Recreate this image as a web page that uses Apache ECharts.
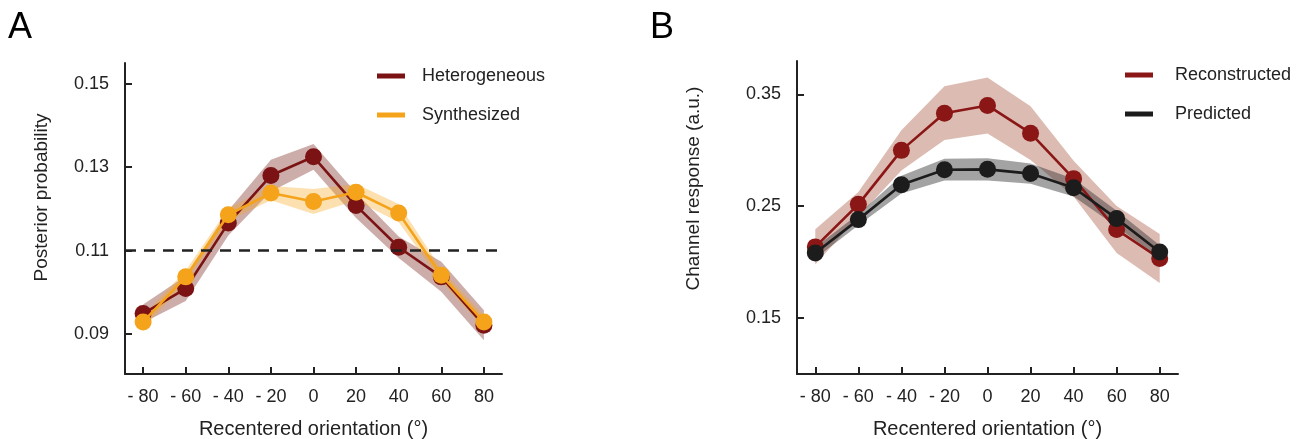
<!DOCTYPE html>
<html>
<head>
<meta charset="utf-8">
<script src="https://cdn.jsdelivr.net/npm/echarts@6/dist/echarts.min.js"></script>
<style>
  html, body { margin: 0; padding: 0; background: #fff; }
  #chart { width: 1306px; height: 439px; }
</style>
</head>
<body>
<div id="chart"></div>
<script>
// orientation bins (x), shared by both panels
const orientations = [-80, -60, -40, -20, 0, 20, 40, 60, 80];
const xTicks = [-80, -60, -40, -20, 0, 20, 40, 60, 80];

// panel A: posterior probability
const heterogeneous = [0.0949, 0.1009, 0.1166, 0.1280, 0.1325, 0.1208, 0.1108, 0.1037, 0.0921];
const heterogeneousErr = [0.0022, 0.0030, 0.0030, 0.0038, 0.0031, 0.0030, 0.0026, 0.0036, 0.0036];
const synthesized = [0.0929, 0.1037, 0.1186, 0.1238, 0.1218, 0.1240, 0.1190, 0.1041, 0.0929];
const synthesizedErr = [0.0015, 0.0015, 0.0015, 0.0017, 0.0030, 0.0020, 0.0022, 0.0015, 0.0015];
const chanceLevel = 0.11;
const yTicksA = [0.09, 0.11, 0.13, 0.15];

// panel B: channel response
const reconstructed = [0.2134, 0.2515, 0.2998, 0.3331, 0.3400, 0.3152, 0.2745, 0.2289, 0.2030];
const reconstructedErr = [0.0157, 0.0110, 0.0180, 0.0240, 0.0250, 0.0240, 0.0160, 0.0210, 0.0220];
const predicted = [0.2080, 0.2378, 0.2691, 0.2825, 0.2828, 0.2790, 0.2664, 0.2387, 0.2089];
const predictedErr = [0.0050, 0.0050, 0.0080, 0.0097, 0.0100, 0.0090, 0.0080, 0.0070, 0.0060];
const yTicksB = [0.15, 0.25, 0.35];

const FONT = '"Liberation Sans", Arial, sans-serif';
const INK = '#222';

// shaded error band drawn as one polygon through the axis scales
function band(xs, mean, err, fill, gridIdx) {
  return {
    type: 'custom',
    xAxisIndex: gridIdx,
    yAxisIndex: gridIdx,
    silent: true,
    z: 1,
    data: xs.map((x, i) => [x, mean[i] - err[i], mean[i] + err[i]]),
    encode: { x: 0, y: [1, 2] },
    renderItem: function (params, api) {
      if (params.dataIndex !== 0) return null;
      const pts = [];
      for (let i = 0; i < xs.length; i++) pts.push(api.coord([xs[i], mean[i] + err[i]]));
      for (let i = xs.length - 1; i >= 0; i--) pts.push(api.coord([xs[i], mean[i] - err[i]]));
      return { type: 'polygon', shape: { points: pts }, style: { fill: fill } };
    }
  };
}

function line(name, xs, ys, color, gridIdx, z) {
  return {
    name: name,
    type: 'line',
    xAxisIndex: gridIdx,
    yAxisIndex: gridIdx,
    data: xs.map((x, i) => [x, ys[i]]),
    symbol: 'circle',
    symbolSize: 17,
    z: z,
    lineStyle: { color: color, width: 2.6 },
    itemStyle: { color: color }
  };
}

function xAxis(gridIdx) {
  return {
    type: 'value',
    gridIndex: gridIdx,
    min: -88.5,
    max: 88.5,
    name: 'Recentered orientation (°)',
    nameLocation: 'middle',
    nameGap: 45,
    nameTextStyle: { fontSize: 20, color: INK, fontFamily: FONT },
    axisLine: { onZero: false, lineStyle: { color: INK, width: 2 } },
    axisTick: { inside: true, length: 7, customValues: xTicks, lineStyle: { color: INK, width: 2 } },
    axisLabel: {
      customValues: xTicks,
      margin: 14,
      fontSize: 18,
      color: INK,
      fontFamily: FONT,
      formatter: v => (v < 0 ? '- ' + (-v) : String(v))
    },
    splitLine: { show: false }
  };
}

function yAxis(gridIdx, min, max, ticks, name, gap, shift) {
  return {
    type: 'value',
    gridIndex: gridIdx,
    min: min,
    max: max,
    name: name,
    nameLocation: 'middle',
    nameGap: gap,
    nameTextStyle: { fontSize: 19, color: INK, fontFamily: FONT, padding: [0, 0, 0, shift] },
    axisLine: { show: true, onZero: false, lineStyle: { color: INK, width: 2 } },
    axisTick: { show: true, inside: true, length: 7, customValues: ticks, lineStyle: { color: INK, width: 2 } },
    axisLabel: {
      customValues: ticks,
      margin: 16,
      fontSize: 18,
      color: INK,
      fontFamily: FONT,
      formatter: v => v.toFixed(2)
    },
    splitLine: { show: false }
  };
}

function legend(names, left, top, textGap) {
  return {
    data: names,
    orient: 'vertical',
    left: left,
    top: top,
    padding: 0,
    icon: 'rect',
    itemWidth: 28,
    itemHeight: 5,
    itemGap: 21,
    selectedMode: false,
    textStyle: { fontSize: 18, color: INK, fontFamily: FONT, padding: [0, 0, 0, textGap] }
  };
}

const chart = echarts.init(document.getElementById('chart'), null, { renderer: 'canvas' });

const heteroLine = line('Heterogeneous', orientations, heterogeneous, '#7b1214', 0, 3);
heteroLine.markLine = {
  silent: true,
  symbol: 'none',
  label: { show: false },
  lineStyle: { color: INK, type: [11, 8], width: 2.5 },
  data: [{ yAxis: chanceLevel }]
};

chart.setOption({
  animation: false,
  backgroundColor: '#fff',
  graphic: [
    { type: 'text', left: 8, top: 10, style: { text: 'A', fontSize: 36, fill: '#000', font: '36px ' + FONT } },
    { type: 'text', left: 650, top: 10, style: { text: 'B', fontSize: 36, fill: '#000', font: '36px ' + FONT } }
  ],
  grid: [
    { left: 125, top: 63, width: 377, height: 311, outerBoundsMode: 'none' },
    { left: 797, top: 61, width: 381, height: 313, outerBoundsMode: 'none' }
  ],
  legend: [
    legend(['Heterogeneous', 'Synthesized'], 377, 67, 12),
    legend(['Reconstructed', 'Predicted'], 1125, 66, 17)
  ],
  xAxis: [xAxis(0), xAxis(1)],
  yAxis: [
    yAxis(0, 0.0804, 0.155, yTicksA, 'Posterior probability', 74, 42),
    yAxis(1, 0.0996, 0.3798, yTicksB, 'Channel response (a.u.)', 94, 58)
  ],
  series: [
    band(orientations, heterogeneous, heterogeneousErr, 'rgba(120, 40, 30, 0.38)', 0),
    band(orientations, synthesized, synthesizedErr, 'rgba(245, 165, 30, 0.35)', 0),
    heteroLine,
    line('Synthesized', orientations, synthesized, '#f5a31a', 0, 4),
    band(orientations, reconstructed, reconstructedErr, 'rgba(150, 50, 20, 0.33)', 1),
    band(orientations, predicted, predictedErr, 'rgba(50, 50, 50, 0.45)', 1),
    line('Reconstructed', orientations, reconstructed, '#8a1616', 1, 3),
    line('Predicted', orientations, predicted, '#1c1c1c', 1, 4)
  ]
});
</script>
</body>
</html>
